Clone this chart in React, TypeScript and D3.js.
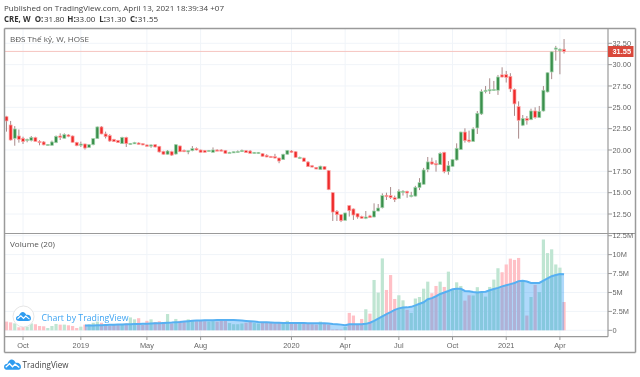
import React from "react";
import * as d3 from "d3";

const opens = [23.9,22.93,21.37,21.64,21.37,21.13,21.13,21.45,21.0,20.94,20.55,20.55,20.86,21.64,21.37,21.76,21.64,20.9,20.62,20.7,20.3,20.62,21.33,22.7,21.88,21.68,21.25,21.13,20.74,21.48,20.66,20.74,20.82,20.74,20.59,20.51,20.62,20.43,19.84,19.5,19.8,19.53,20.47,19.96,19.84,19.92,20.16,20.0,19.96,19.88,19.73,20.0,20.0,19.96,19.69,19.73,19.73,19.8,19.92,19.88,19.61,19.57,19.57,19.38,19.26,19.22,19.06,18.87,19.5,19.88,19.8,19.02,19.06,18.59,18.16,17.97,17.7,18.05,17.58,15.0,12.8,12.42,11.76,13.48,13.09,12.54,12.19,12.0,12.27,12.15,12.85,13.24,14.69,14.65,14.41,14.3,15.08,15.16,14.57,14.6,15.6,15.98,17.73,18.6,18.4,18.28,19.73,17.46,18.08,18.83,20.04,22.1,21.17,21.0,22.58,24.22,26.84,26.95,27.03,27.0,28.8,28.83,28.63,27.1,25.08,22.9,23.7,23.55,24.57,23.8,24.57,26.8,29.14,31.84,31.64,31.8];
const highs = [24.0,23.4,22.8,22.4,21.56,21.33,21.64,21.55,21.15,21.05,20.7,21.1,21.7,21.95,21.95,21.85,21.7,20.95,20.98,20.75,20.7,21.4,22.75,22.8,22.15,21.85,21.3,21.18,21.55,21.55,20.82,20.95,20.9,20.8,20.65,20.66,20.7,20.48,19.9,20.0,19.9,20.7,20.52,20.05,19.92,20.46,20.3,20.05,20.0,20.0,20.3,20.1,20.1,20.0,19.78,19.82,19.95,20.05,20.0,20.0,19.75,19.75,19.62,19.5,19.3,19.55,19.1,19.55,20.0,20.0,19.85,19.22,19.1,18.7,18.25,18.0,18.15,18.12,17.66,15.05,12.95,12.5,12.65,13.55,13.15,12.6,12.3,12.85,12.4,13.75,13.67,14.92,15.0,15.66,14.65,15.4,15.3,15.22,15.1,15.8,16.7,17.9,19.18,19.1,18.8,19.73,19.78,18.7,18.95,20.78,22.15,22.54,22.27,22.66,24.57,27.1,27.5,28.4,28.09,28.79,29.69,29.26,29.0,27.2,25.7,24.1,23.98,24.84,25.0,25.16,27.5,29.1,31.55,32.2,31.9,33.0];
const lows = [22.15,21.1,20.5,20.86,20.7,20.9,21.0,21.0,20.55,20.55,20.5,20.5,20.8,21.17,21.33,21.5,20.86,20.45,20.35,20.05,20.25,20.55,21.3,21.85,21.35,20.95,20.95,20.83,20.7,20.35,20.6,20.7,20.62,20.55,20.38,20.25,20.3,19.7,19.45,19.45,19.3,19.45,19.75,19.75,19.5,19.85,19.95,19.7,19.7,19.82,19.7,19.88,19.85,19.58,19.65,19.69,19.69,19.78,19.65,19.58,19.57,19.55,19.22,19.15,19.07,19.0,18.45,18.85,19.45,19.65,19.1,18.95,18.6,18.0,17.95,17.75,17.68,17.68,15.3,11.68,11.68,11.55,11.72,12.2,11.8,11.95,11.95,11.9,12.05,12.1,12.8,13.15,14.14,14.26,13.9,14.25,14.66,14.4,14.45,14.55,15.3,15.95,17.4,18.24,17.46,18.25,17.27,17.1,18.02,18.75,20.0,20.86,20.86,20.95,21.88,24.1,26.64,26.56,26.95,26.45,28.5,27.9,26.8,24.0,21.33,22.8,22.97,23.5,23.67,23.75,24.5,26.75,28.3,30.47,28.87,31.3];
const closes = [23.4,21.17,22.46,21.25,20.98,21.25,21.48,21.0,20.9,20.6,20.66,20.94,21.6,21.48,21.8,21.6,20.9,20.5,20.7,20.23,20.62,21.33,22.7,21.88,21.56,21.05,20.98,20.86,21.48,20.74,20.78,20.86,20.66,20.59,20.43,20.59,20.35,19.77,19.5,19.88,19.4,20.62,19.8,19.8,19.92,20.16,20.0,19.73,19.73,19.96,20.0,19.92,19.88,19.61,19.73,19.8,19.84,19.96,19.69,19.61,19.73,19.73,19.26,19.18,19.1,19.06,18.71,19.5,19.96,19.73,19.14,19.14,18.67,18.05,18.0,17.77,18.1,17.73,15.35,12.73,12.42,11.72,12.62,12.89,12.38,12.15,12.0,12.15,12.1,12.85,13.2,14.65,14.53,14.41,14.2,15.16,15.16,14.96,14.69,15.63,16.17,17.66,18.6,18.36,18.28,19.6,17.46,18.16,18.87,20.2,22.1,21.1,21.0,22.46,24.3,26.84,27.0,27.07,27.1,28.55,28.55,28.5,27.15,25.4,23.48,23.7,23.48,24.57,23.83,24.53,27.0,29.05,31.5,31.95,31.8,31.55];
const volumes = [1.15,1.05,.92,.4,.48,.48,.92,.8,.57,.53,.3,.57,.84,.75,.75,.66,.57,.3,.48,.75,.8,1.0,1.15,1.0,.8,.6,.75,.75,.85,.9,1.7,1.45,1.6,.7,1.25,1.45,1.1,1.2,1.05,2.15,.9,1.5,1.25,1.2,1.45,1.3,1.2,1.25,1.2,1.15,1.2,1.15,1.25,1.25,.95,.8,.8,.9,1.0,1.1,.95,.9,1.0,1.0,1.0,.9,1.0,1.1,1.25,.97,1.0,.97,.9,.9,.8,.75,1.15,.9,.75,.1,.13,.1,.45,2.3,1.95,.8,1.5,2.78,2.2,6.65,4.98,9.5,5.33,7.3,4.14,4.63,3.96,2.7,2.3,4.2,4.4,5.5,6.43,4.9,5.86,6.43,5.73,7.75,5.4,6.34,5.86,3.92,4.63,4.6,5.7,5.07,4.45,5.73,6.7,8.2,7.67,8.7,9.47,9.3,9.56,6.4,1.95,4.4,6.0,5.05,12.0,10.2,10.7,8.7,8.28,3.74];
const maStart = 19;
const maValues = [.62,.63,.64,.66,.68,.7,.72,.73,.75,.77,.79,.8,.82,.84,.86,.88,.9,.92,.94,.97,1.0,1.03,1.08,1.1,1.15,1.2,1.25,1.28,1.3,1.32,1.33,1.34,1.35,1.36,1.36,1.36,1.35,1.32,1.28,1.24,1.2,1.15,1.1,1.08,1.05,1.03,1.01,1.0,.98,.97,.97,.96,.95,.95,.94,.93,.93,.92,.92,.9,.84,.8,.75,.66,.8,.8,.8,.8,.85,1.0,1.25,1.54,1.85,2.15,2.4,2.7,2.9,3.0,3.03,3.1,3.3,3.5,3.7,4.1,4.25,4.5,4.8,5.0,5.2,5.42,5.48,5.48,5.2,5.15,5.05,5.0,5.05,5.1,5.3,5.45,5.6,5.8,5.95,6.1,6.25,6.5,6.55,6.45,6.25,6.25,6.25,6.55,6.85,7.15,7.3,7.45,7.4];
const priceTicks = [12.5,15,17.5,20,22.5,25,27.5,30,32.5];
const volumeTicks = [0,2.5,5,7.5,10,12.5];
const volumeTickLabels = ["0","2.5M","5M","7.5M","10M","12.5M"];
const dateTickIndex = [4,18,34,47,69,82,95,108,121,134];
const dateTickLabels = ["Oct","2019","May","Aug","2020","Apr","Jul","Oct","2021","Apr"];
const lastClose = 31.55;
const ohlcLabels = ["O:", "31.80", "H:", "33.00", "L:", "31.30", "C:", "31.55"];
const ohlcLabelX = [34.7, 44, 67.3, 75, 99.3, 105.7, 130, 137.7];

const FONT = "'Liberation Sans', Arial, sans-serif";
const UI = "'Open Sans', sans-serif";
const TICK_SIZE = 7.4;

const x = d3.scaleLinear().domain([0, 135]).range([6.5, 564.05]);
const y = d3.scaleLinear().domain([12.5, 32.5]).range([214, 43.3]);
const yv = d3.scaleLinear().domain([0, 12.5]).range([330.3, 235.7]);

const maPoints = maValues.map((v, k) => ({ i: k + maStart, v }));
const maLine = d3.line<{ i: number; v: number }>().x((d) => x(d.i)).y((d) => yv(d.v));
const maArea = d3.area<{ i: number; v: number }>().x((d) => x(d.i)).y0(yv(0)).y1((d) => yv(d.v));

const GREY = "#9a9a9a";

function Cloud({ tx, ty, s, fill }: { tx: number; ty: number; s: number; fill: string }) {
  return (
    <g transform={`translate(${tx},${ty}) scale(${s})`}>
      <path d="M0 9 C0 6 2 5 4 5 C5 2 7 0 9 0 C11 0 13 2 14 4 C17 3 20 5 20 9 C20 11 18 12 16 12 L4 12 C2 12 0 11 0 9Z" fill={fill} />
      <path d="M2 9 L6.5 5 L10 8.5 L13 5.5 L18 9.5" fill="none" stroke="#fff" strokeWidth={1.5} />
    </g>
  );
}

export default function App() {
  return (
    <svg
      width={640}
      height={377}
      style={{ position: "absolute", left: 0, top: 0, background: "#fff", filter: "blur(0.35px)" }}
    >
      <text x={4} y={11} fontFamily={UI} fontSize={8} fill="#444" textLength={220} lengthAdjust="spacingAndGlyphs">
        Published on TradingView.com, April 13, 2021 18:39:34 +07
      </text>
      <text x={4} y={22} fontFamily={UI} fontSize={8} fontWeight={700} fill="#333" textLength={26.5} lengthAdjust="spacingAndGlyphs">CRE, W</text>
      {ohlcLabels.map((t, k) => (
        <text key={k} x={ohlcLabelX[k]} y={22} fontFamily={UI} fontSize={8} fontWeight={k % 2 === 0 ? 700 : 400} fill="#333">{t}</text>
      ))}

      {priceTicks.map((t) => (
        <line key={t} x1={5} x2={608} y1={y(t)} y2={y(t)} stroke="#f0f4f9" />
      ))}
      {volumeTicks.map((t) => (
        <line key={t} x1={5} x2={608} y1={yv(t)} y2={yv(t)} stroke="#f0f4f9" />
      ))}
      {dateTickIndex.map((i) => (
        <g key={i}>
          <line x1={x(i)} x2={x(i)} y1={29} y2={233} stroke="#f0f4f9" />
          <line x1={x(i)} x2={x(i)} y1={234} y2={336} stroke="#f0f4f9" />
        </g>
      ))}

      <line x1={5} x2={608} y1={y(lastClose)} y2={y(lastClose)} stroke="#f6c4c0" />

      {closes.map((c, i) => {
        const up = c >= opens[i];
        const top = y(Math.max(c, opens[i]));
        const h = Math.max(1.2, Math.abs(y(c) - y(opens[i])));
        return (
          <g key={i}>
            <line x1={x(i)} x2={x(i)} y1={y(highs[i])} y2={y(lows[i])} stroke="#a98a8a" strokeWidth={1} />
            <rect
              x={x(i) - 1.5}
              y={top}
              width={3}
              height={h}
              fill={up ? "#3a8f4c" : "#ee2b2b"}
              stroke={up ? "#a9d8b2" : "#ffa6a6"}
              strokeWidth={0.7}
            />
          </g>
        );
      })}

      {volumes.map((v, i) => (
        <rect
          key={i}
          x={x(i) - 1.6}
          y={yv(v)}
          width={3.2}
          height={yv(0) - yv(v)}
          fill={closes[i] >= opens[i] ? "#bfe5d2" : "#ffc0c6"}
        />
      ))}
      <path d={maArea(maPoints) ?? ""} fill="#2196f3" fillOpacity={0.36} />
      <path d={maLine(maPoints) ?? ""} fill="none" stroke="#56b0f2" strokeWidth={2} />

      <text x={10} y={42} fontFamily={UI} fontSize={8} fill="#555" textLength={79} lengthAdjust="spacingAndGlyphs">BĐS Thế kỷ, W, HOSE</text>
      <text x={10} y={247} fontFamily={UI} fontSize={8} fill="#555" textLength={45} lengthAdjust="spacingAndGlyphs">Volume (20)</text>

      <circle cx={23.5} cy={316.5} r={10.5} fill="#fff" stroke="#e6e6e6" />
      <Cloud tx={16} ty={312} s={0.75} fill="#2e9cf0" />
      <text x={41.5} y={320.5} fontFamily={UI} fontSize={9.2} fill="#3ea4f2" textLength={87} lengthAdjust="spacingAndGlyphs">Chart by TradingView</text>

      <line x1={4.5} x2={4.5} y1={28.5} y2={352.5} stroke={GREY} strokeWidth={1.5} />
      <line x1={4.5} x2={635.5} y1={28.5} y2={28.5} stroke={GREY} strokeWidth={1.5} />
      <line x1={635.5} x2={635.5} y1={28.5} y2={352.5} stroke={GREY} strokeWidth={1.5} />
      <line x1={4.5} x2={635.5} y1={352.5} y2={352.5} stroke={GREY} strokeWidth={1.5} />
      <line x1={4.5} x2={635.5} y1={233.5} y2={233.5} stroke={GREY} strokeWidth={1.2} />
      <line x1={4.5} x2={608} y1={336.7} y2={336.7} stroke={GREY} strokeWidth={1.2} />
      <line x1={608} x2={608} y1={28.5} y2={336.7} stroke={GREY} strokeWidth={1.2} />

      {priceTicks.map((t) => (
        <g key={t}>
          <line x1={608} x2={612} y1={y(t)} y2={y(t)} stroke={GREY} />
          <text x={612.5} y={y(t) + 2.7} fontFamily={FONT} fontSize={TICK_SIZE} fill="#666">{t.toFixed(2)}</text>
        </g>
      ))}
      {volumeTicks.map((t, k) => (
        <g key={t}>
          <line x1={608} x2={612} y1={yv(t)} y2={yv(t)} stroke={GREY} />
          <text x={612.5} y={yv(t) + 2.7} fontFamily={FONT} fontSize={TICK_SIZE} fill="#666">{volumeTickLabels[k]}</text>
        </g>
      ))}
      {dateTickIndex.map((i, k) => (
        <g key={i}>
          <line x1={x(i)} x2={x(i)} y1={337} y2={340} stroke={GREY} />
          <text x={x(i)} y={348.4} textAnchor="middle" fontFamily={FONT} fontSize={TICK_SIZE} fill="#666">{dateTickLabels[k]}</text>
        </g>
      ))}

      <rect x={608} y={46} width={25.5} height={11} fill="#d9483b" />
      <text x={612.5} y={54.2} fontFamily={FONT} fontSize={TICK_SIZE} fontWeight={700} fill="#fff">{lastClose.toFixed(2)}</text>

      <Cloud tx={4} ty={359.5} s={0.85} fill="#2e9cf0" />
      <text x={22.5} y={368} fontFamily={UI} fontSize={8.5} fill="#444" textLength={46} lengthAdjust="spacingAndGlyphs">TradingView</text>
    </svg>
  );
}
